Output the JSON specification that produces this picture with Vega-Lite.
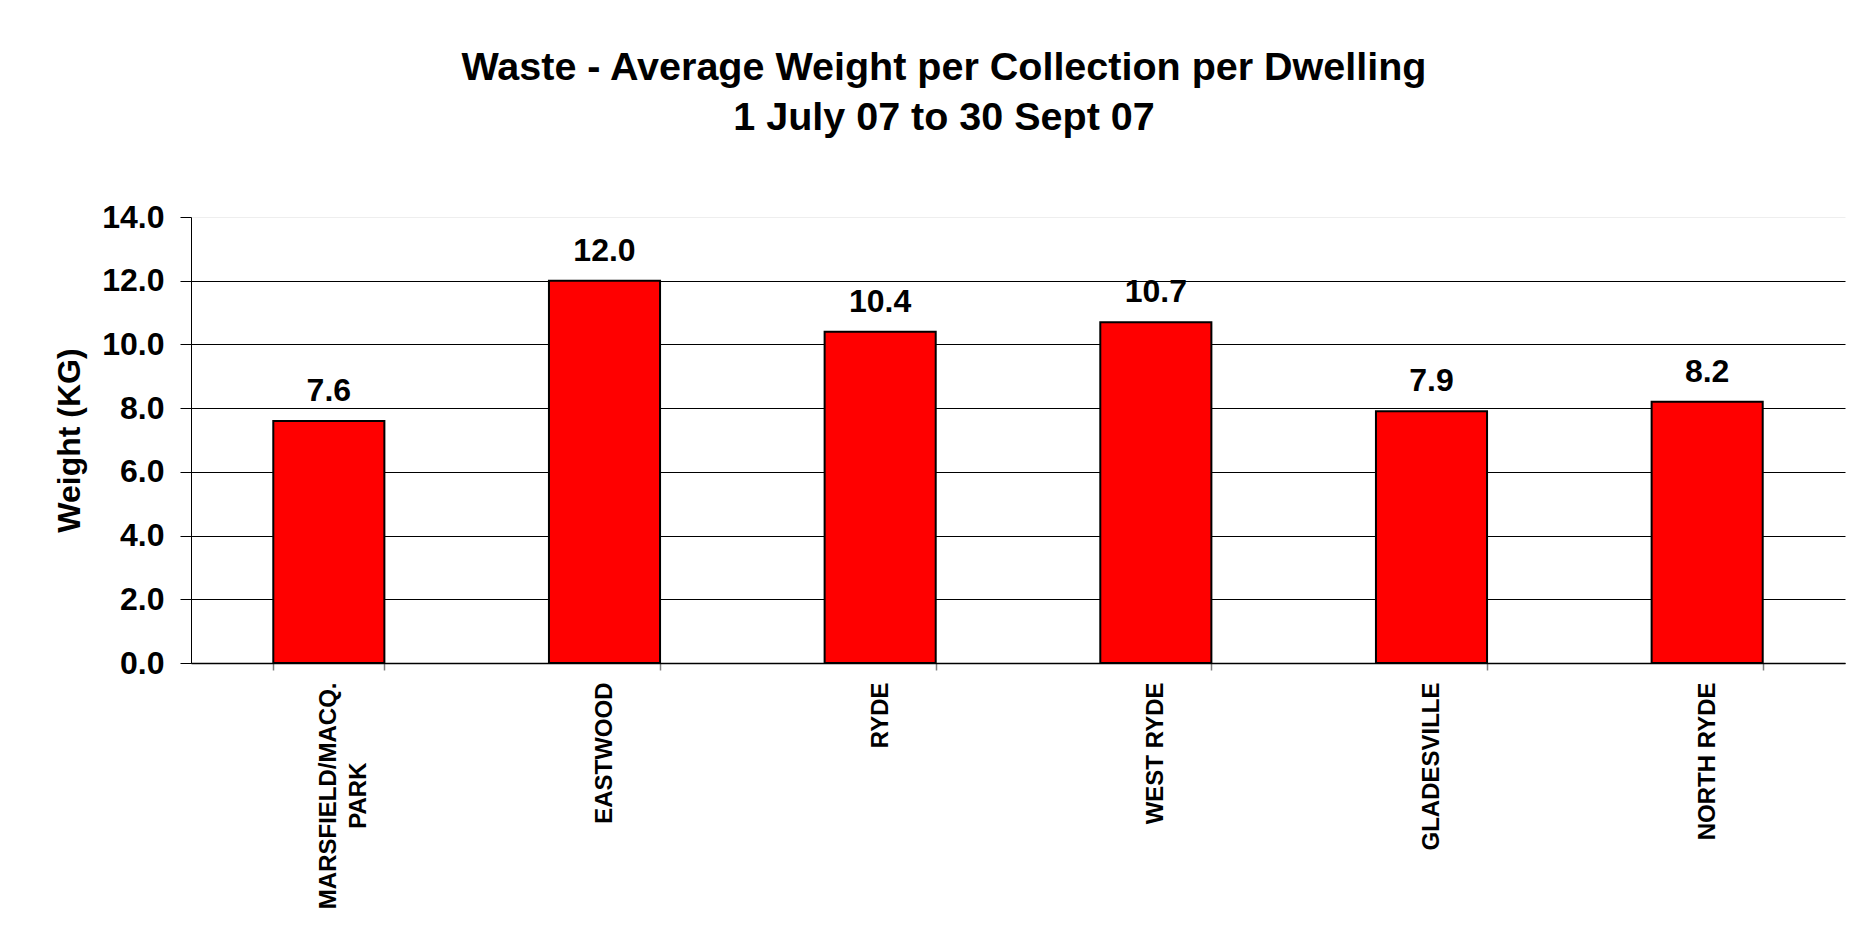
{
  "$schema": "https://vega.github.io/schema/vega-lite/v6.json",
  "width": 1654,
  "height": 446,
  "autosize": "none",
  "padding": {"left": 191, "top": 217, "right": 18, "bottom": 269},
  "background": "#ffffff",
  "config": {
    "font": "Liberation Sans",
    "view": {"stroke": null}
  },
  "title": {
    "text": ["Waste - Average Weight per Collection per Dwelling", "1 July 07 to 30 Sept 07"],
    "font": "Liberation Sans",
    "fontSize": 39.5,
    "fontWeight": "bold",
    "color": "#000000",
    "lineHeight": 50,
    "anchor": "middle",
    "frame": "group",
    "dx": -74,
    "offset": 63
  },
  "data": {
    "values": [
      {"area": "MARSFIELD/MACQ. PARK", "weight": 7.6},
      {"area": "EASTWOOD", "weight": 12.0},
      {"area": "RYDE", "weight": 10.4},
      {"area": "WEST RYDE", "weight": 10.7},
      {"area": "GLADESVILLE", "weight": 7.9},
      {"area": "NORTH RYDE", "weight": 8.2}
    ]
  },
  "encoding": {
    "x": {
      "field": "area",
      "type": "nominal",
      "sort": null,
      "scale": {"paddingInner": 0.597, "paddingOuter": 0.2985},
      "axis": {
        "title": null,
        "labelAngle": -90,
        "labelFont": "Liberation Sans",
        "labelFontSize": 24,
        "labelFontWeight": "bold",
        "labelColor": "#000000",
        "labelLineHeight": 30,
        "labelPadding": 12,
        "labelLimit": 400,
        "labelExpr": "datum.value == 'MARSFIELD/MACQ. PARK' ? ['MARSFIELD/MACQ.', 'PARK\u00a0\u00a0\u00a0\u00a0\u00a0\u00a0\u00a0\u00a0\u00a0\u00a0\u00a0\u00a0\u200b'] : datum.value",
        "tickBand": "extent",
        "tickSize": 7,
        "tickColor": "#808080",
        "tickWidth": 1.5,
        "domainColor": "#000000",
        "domainWidth": 1.5,
        "grid": false
      }
    },
    "y": {
      "field": "weight",
      "type": "quantitative",
      "scale": {"domain": [0, 14], "nice": false, "zero": true},
      "axis": {
        "title": "Weight (KG)",
        "titleFont": "Liberation Sans",
        "titleFontSize": 32,
        "titleFontWeight": "bold",
        "titleColor": "#000000",
        "titlePadding": 15,
        "values": [0, 2, 4, 6, 8, 10, 12, 14],
        "format": ".1f",
        "labelFont": "Liberation Sans",
        "labelFontSize": 32,
        "labelFontWeight": "bold",
        "labelColor": "#000000",
        "labelPadding": 16,
        "tickSize": 11,
        "tickColor": "#000000",
        "domainColor": "#000000",
        "domainWidth": 1,
        "grid": true,
        "gridColor": {"condition": {"test": "datum.value == 14", "value": "#eeeeee"}, "value": "#000000"},
        "gridWidth": 1,
        "gridOpacity": 1
      }
    }
  },
  "layer": [
    {
      "mark": {"type": "bar", "color": "#ff0000", "stroke": "#000000", "strokeWidth": 2}
    },
    {
      "mark": {
        "type": "text",
        "baseline": "alphabetic",
        "dy": -20,
        "font": "Liberation Sans",
        "fontSize": 32,
        "fontWeight": "bold",
        "color": "#000000"
      },
      "encoding": {
        "text": {"field": "weight", "type": "quantitative", "format": ".1f"}
      }
    }
  ]
}
